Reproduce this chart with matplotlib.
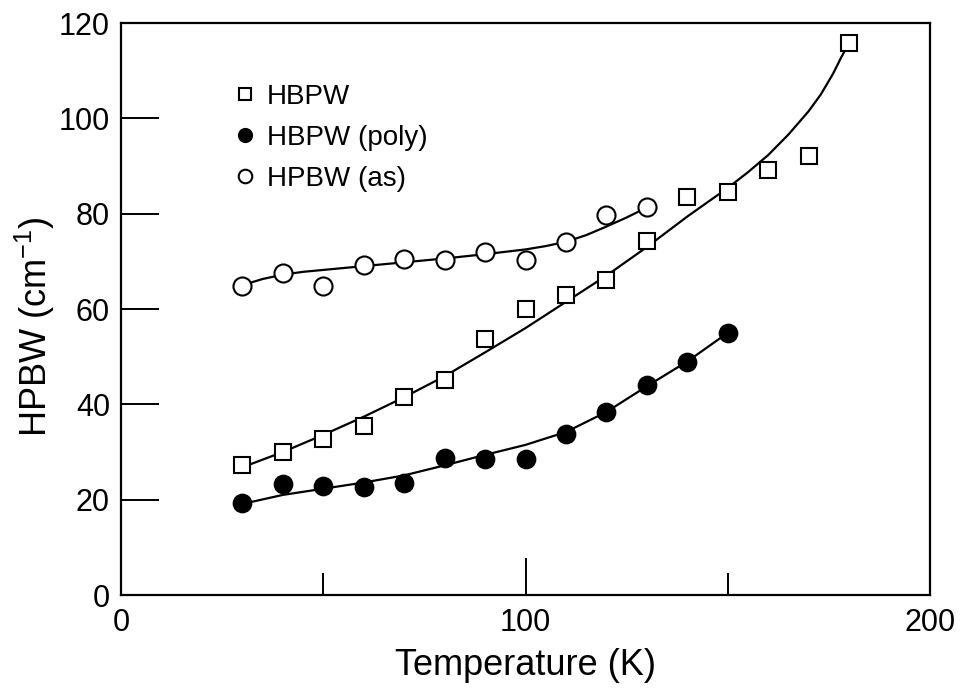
import matplotlib
matplotlib.use("Agg")
import matplotlib.pyplot as plt
from matplotlib.ticker import FixedLocator

plt.rcParams['font.family'] = ['Liberation Sans', 'DejaVu Sans']

# ---- data ----
temp = [30, 40, 50, 60, 70, 80, 90, 100, 110, 120, 130, 140, 150, 160, 170, 180]
hbpw = [27.3, 29.9, 32.8, 35.5, 41.6, 45.2, 53.8, 60.1, 63.0, 66.0, 74.3, 83.6, 84.5, 89.2, 92.1, 115.9]

temp_poly = [30, 40, 50, 60, 70, 80, 90, 100, 110, 120, 130, 140, 150]
hbpw_poly = [19.2, 23.2, 22.9, 22.7, 23.6, 28.8, 28.6, 28.5, 33.8, 38.5, 44.0, 48.9, 54.9]

temp_as = [30, 40, 50, 60, 70, 80, 90, 100, 110, 120, 130]
hpbw_as = [64.9, 67.6, 64.8, 69.2, 70.4, 70.3, 71.9, 70.2, 74.1, 79.7, 81.3]

# fitted guide curves
fit_x = [30, 40, 50, 60, 70, 80, 90, 100, 110, 120, 130, 140, 145, 150, 155, 160, 165,
         170, 173, 176, 178, 180]
fit_y = [26.8, 30.0, 33.6, 37.4, 41.5, 45.9, 50.9, 56.0, 61.5, 67.0, 73.0, 79.4, 82.4, 85.4,
         88.7, 92.3, 96.6, 101.5, 105.0, 109.3, 112.7, 115.8]

fit_poly_x = [31, 40, 50, 60, 70, 80, 90, 100, 110, 120, 130, 140, 150]
fit_poly_y = [19.3, 21.0, 22.3, 23.6, 25.1, 27.2, 29.4, 31.5, 34.2, 38.4, 43.8, 49.0, 55.0]

fit_as_x = [30, 35, 40, 45, 50, 60, 70, 80, 90, 100, 105, 110, 115, 120, 125, 130]
fit_as_y = [65.0, 66.3, 67.2, 67.8, 68.2, 69.0, 69.8, 70.6, 71.5, 72.5, 73.2, 74.1,
            75.5, 77.3, 79.2, 81.3]

xticks_major = [0, 100, 200]
xticks_minor = [50, 150]
yticks = [0, 20, 40, 60, 80, 100, 120]

fig = plt.figure(figsize=(9.63, 6.89), dpi=100)
ax = fig.add_axes([0.1257, 0.1364, 0.8400, 0.8302])

lw = 1.6
ax.plot(fit_x, fit_y, color='black', lw=lw, zorder=2)
ax.plot(fit_poly_x, fit_poly_y, color='black', lw=lw, zorder=2)
ax.plot(fit_as_x, fit_as_y, color='black', lw=lw, zorder=2)

ax.plot(temp, hbpw, ls='none', marker='s', ms=12, mfc='white', mec='black', mew=1.5,
        zorder=3, label='HBPW')
ax.plot(temp_poly, hbpw_poly, ls='none', marker='o', ms=13, mfc='black', mec='black', mew=1.2,
        zorder=3, label='HBPW (poly)')
ax.plot(temp_as, hpbw_as, ls='none', marker='o', ms=13, mfc='white', mec='black', mew=1.5,
        zorder=3, label='HPBW (as)')

ax.set_xlim(0, 200)
ax.set_ylim(0, 120)
ax.xaxis.set_major_locator(FixedLocator(xticks_major))
ax.xaxis.set_minor_locator(FixedLocator(xticks_minor))
ax.yaxis.set_major_locator(FixedLocator(yticks))

ax.tick_params(axis='both', which='major', direction='in', length=27, width=1.4,
               labelsize=22, top=False, right=False)
ax.tick_params(axis='x', which='major', pad=9)
ax.tick_params(axis='y', which='major', pad=8)
ax.tick_params(axis='x', which='minor', direction='in', length=16, width=1.4, top=False)

for s in ax.spines.values():
    s.set_linewidth(1.6)

ax.set_xlabel('Temperature (K)', fontsize=26)
ax.set_ylabel('HPBW (cm$^{\\mathregular{-1}}$)', fontsize=26)
ax.xaxis.set_label_coords(0.5, -0.092)
ax.yaxis.set_label_coords(-0.079, 0.470)

leg = ax.legend(loc='upper left', bbox_to_anchor=(0.141, 0.894), frameon=False,
                fontsize=20, handlelength=0.7, handletextpad=0.45, labelspacing=0.55,
                borderpad=0, borderaxespad=0, markerscale=0.75)

fig.savefig('out.png', dpi=100)
